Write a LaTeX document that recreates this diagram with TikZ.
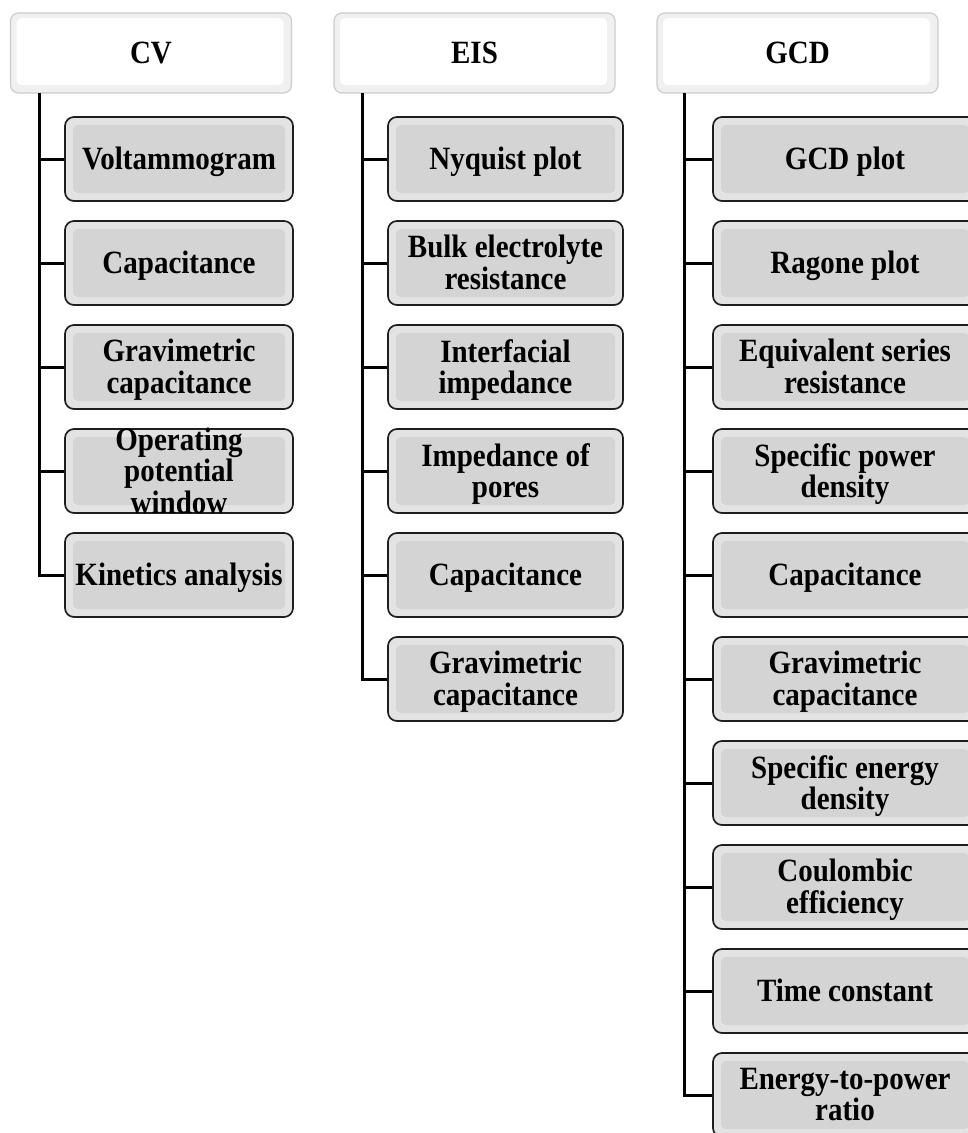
\documentclass[tikz,border=0pt]{standalone}
\usepackage{fontspec}
\usepackage{graphicx}
\setmainfont{Liberation Serif}
\newcommand\boxtext[1]{\raisebox{-4pt}[\height][\depth]{\scalebox{1}[1.12]{\fontsize{29}{27}\selectfont\bfseries\renewcommand\arraystretch{1}\begin{tabular}{@{}c@{}}#1\end{tabular}}}}
\begin{document}
\begin{tikzpicture}[x=1pt,y=-1pt,
  txt/.style={align=center, inner sep=0pt, text=black},
  hdr/.style={txt, draw=black!20, line width=1.2pt, fill=black!6, rounded corners=8pt,
     minimum width=281pt, minimum height=80pt,
     path picture={\fill[white, rounded corners=5pt]
        ([xshift=6pt,yshift=8pt]path picture bounding box.south west) rectangle
        ([xshift=-8pt,yshift=-5pt]path picture bounding box.north east);}},
  leaf/.style={txt, draw=black!88, line width=1.7pt, fill=black!11, rounded corners=9pt,
     minimum height=84pt,
     path picture={\fill[black!17, rounded corners=5pt]
        ([xshift=8pt,yshift=8pt]path picture bounding box.south west) rectangle
        ([xshift=-8pt,yshift=-8pt]path picture bounding box.north east);}},
  cvleaf/.style={leaf, minimum width=228pt},
  eisleaf/.style={leaf, minimum width=235pt},
  gcdleaf/.style={leaf, minimum width=264pt},
  link/.style={line width=3pt, black}
]
\useasboundingbox (0,0) rectangle (968,1133);
\clip (0,0) rectangle (968,1133);
\fill[white] (0,0) rectangle (968,1133);

% headers
\node[hdr] (cv)  at (151,53)   {\boxtext{CV}};
\node[hdr] (eis) at (474.5,53) {\boxtext{EIS}};
\node[hdr] (gcd) at (797.5,53) {\boxtext{GCD}};

% trunk tops
\coordinate (cvt)  at (39,93);
\coordinate (eist) at (362,93);
\coordinate (gcdt) at (684,93);

% CV children
\node[cvleaf] (cv1) at (179,159) {\boxtext{Voltammogram}};
\node[cvleaf] (cv2) at (179,263) {\boxtext{Capacitance}};
\node[cvleaf] (cv3) at (179,367) {\boxtext{Gravimetric\\capacitance}};
\node[cvleaf, text height=46pt, text depth=32pt] (cv4) at (179,471) {\boxtext{Operating\\potential\\window}};
\node[cvleaf] (cv5) at (179,575) {\boxtext{Kinetics analysis}};

% EIS children
\node[eisleaf] (e1) at (505.5,159) {\boxtext{Nyquist plot}};
\node[eisleaf] (e2) at (505.5,263) {\boxtext{Bulk electrolyte\\resistance}};
\node[eisleaf] (e3) at (505.5,367) {\boxtext{Interfacial\\impedance}};
\node[eisleaf] (e4) at (505.5,471) {\boxtext{Impedance of\\pores}};
\node[eisleaf] (e5) at (505.5,575) {\boxtext{Capacitance}};
\node[eisleaf] (e6) at (505.5,679) {\boxtext{Gravimetric\\capacitance}};

% GCD children
\node[gcdleaf] (g1)  at (845,159)  {\boxtext{GCD plot}};
\node[gcdleaf] (g2)  at (845,263)  {\boxtext{Ragone plot}};
\node[gcdleaf] (g3)  at (845,367)  {\boxtext{Equivalent series\\resistance}};
\node[gcdleaf] (g4)  at (845,471)  {\boxtext{Specific power\\density}};
\node[gcdleaf] (g5)  at (845,575)  {\boxtext{Capacitance}};
\node[gcdleaf] (g6)  at (845,679)  {\boxtext{Gravimetric\\capacitance}};
\node[gcdleaf] (g7)  at (845,783)  {\boxtext{Specific energy\\density}};
\node[gcdleaf] (g8)  at (845,887)  {\boxtext{Coulombic\\efficiency}};
\node[gcdleaf] (g9)  at (845,991)  {\boxtext{Time constant}};
\node[gcdleaf] (g10) at (845,1095) {\boxtext{Energy-to-power\\ratio}};

% connectors
\foreach \n in {cv1,cv2,cv3,cv4,cv5} \draw[link] (cvt) |- (\n.west);
\foreach \n in {e1,e2,e3,e4,e5,e6} \draw[link] (eist) |- (\n.west);
\foreach \n in {g1,g2,g3,g4,g5,g6,g7,g8,g9,g10} \draw[link] (gcdt) |- (\n.west);
\end{tikzpicture}
\end{document}
